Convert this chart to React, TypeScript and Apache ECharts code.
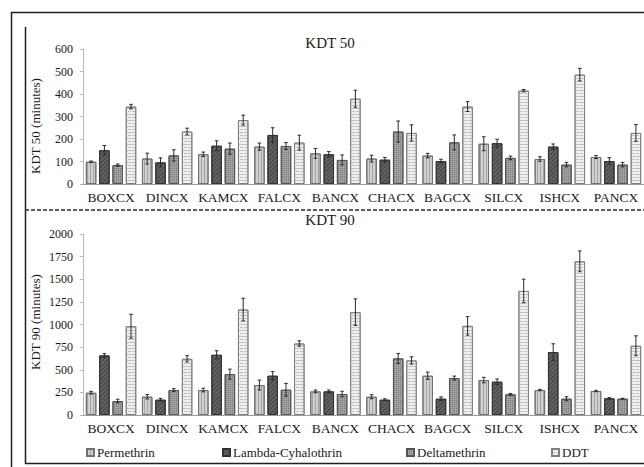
import React, { useEffect, useRef } from "react";
import * as echarts from "echarts";

const categories = ["BOXCX", "DINCX", "KAMCX", "FALCX", "BANCX", "CHACX", "BAGCX", "SILCX", "ISHCX", "PANCX"];
const seriesNames = ["Permethrin", "Lambda-Cyhalothrin", "Deltamethrin", "DDT"];

// KDT 50 (minutes): means and standard errors
const kdt50Permethrin = [99, 113, 132, 166, 136, 113, 126, 179, 111, 120];
const kdt50PermethrinErr = [3, 24, 10, 16, 22, 15, 10, 31, 10, 7];
const kdt50Lambda = [150, 96, 170, 218, 132, 108, 102, 181, 166, 102];
const kdt50LambdaErr = [21, 20, 22, 32, 12, 10, 8, 18, 12, 15];
const kdt50Delta = [84, 127, 157, 169, 107, 233, 185, 116, 86, 86];
const kdt50DeltaErr = [5, 25, 25, 15, 22, 47, 33, 8, 10, 10];
const kdt50DDT = [344, 233, 284, 184, 379, 227, 344, 415, 486, 227];
const kdt50DDTErr = [10, 15, 22, 33, 38, 36, 22, 5, 28, 37];

// KDT 90 (minutes): means and standard errors
const kdt90Permethrin = [246, 202, 276, 331, 261, 202, 434, 386, 276, 265];
const kdt90PermethrinErr = [15, 25, 20, 55, 15, 22, 40, 30, 8, 8];
const kdt90Lambda = [658, 169, 665, 434, 261, 169, 180, 368, 695, 184];
const kdt90LambdaErr = [20, 15, 45, 45, 15, 10, 20, 30, 92, 8];
const kdt90Delta = [154, 276, 452, 279, 232, 625, 408, 228, 180, 180];
const kdt90DeltaErr = [20, 15, 55, 70, 30, 55, 22, 10, 22, 5];
const kdt90DDT = [981, 621, 1165, 790, 1136, 603, 985, 1371, 1698, 765];
const kdt90DDTErr = [132, 35, 125, 30, 147, 40, 103, 130, 115, 110];

const kdt50Ticks = { min: 0, max: 600, interval: 100 };
const kdt90Ticks = { min: 0, max: 2000, interval: 250 };

const FONT = "Liberation Serif";
const TEXT_COLOR = "#1a1a1a";
const BAR_WIDTH = 10.5;
const BAR_GAP_PX = 2.8;

const styles = [
  {
    color: "#d0d0d0",
    borderColor: "#707070",
    decal: { symbol: "rect", symbolSize: 1, dashArrayX: [1, 2], dashArrayY: [1, 0], color: "#a4a4a4" },
  },
  {
    color: "#646464",
    borderColor: "#333333",
    decal: { symbol: "rect", symbolSize: 1, dashArrayX: [1, 2], dashArrayY: [1, 0], rotation: Math.PI / 4, color: "#404040" },
  },
  {
    color: "#a2a2a2",
    borderColor: "#555555",
    decal: { symbol: "rect", symbolSize: 1, dashArrayX: [1, 1], dashArrayY: [1, 1], color: "#767676" },
  },
  {
    color: "#f0f0f0",
    borderColor: "#808080",
    decal: { symbol: "rect", symbolSize: 1, dashArrayX: [[3, 1], [1, 0]], dashArrayY: [1, 2], color: "#c2c2c2" },
  },
];

const panels = [
  {
    values: [kdt50Permethrin, kdt50Lambda, kdt50Delta, kdt50DDT],
    errors: [kdt50PermethrinErr, kdt50LambdaErr, kdt50DeltaErr, kdt50DDTErr],
  },
  {
    values: [kdt90Permethrin, kdt90Lambda, kdt90Delta, kdt90DDT],
    errors: [kdt90PermethrinErr, kdt90LambdaErr, kdt90DeltaErr, kdt90DDTErr],
  },
];

function buildOption() {
  const series: any[] = [];
  panels.forEach((panel, p) => {
    panel.values.forEach((vals, i) => {
      series.push({
        type: "bar",
        name: seriesNames[i],
        xAxisIndex: p,
        yAxisIndex: p,
        data: vals,
        barWidth: BAR_WIDTH,
        barGap: `${(BAR_GAP_PX / BAR_WIDTH) * 100}%`,
        itemStyle: { ...styles[i], borderWidth: 1 },
        emphasis: { disabled: true },
      });
    });
    panel.values.forEach((vals, i) => {
      const offset = (i - 1.5) * (BAR_WIDTH + BAR_GAP_PX);
      series.push({
        type: "custom",
        name: `err-${p}-${i}`,
        xAxisIndex: p,
        yAxisIndex: p,
        z: 10,
        encode: { x: 0, y: [1, 2] },
        data: vals.map((v, k) => [k, v - panel.errors[i][k], v + panel.errors[i][k]]),
        renderItem: (params: any, api: any) => {
          const lo = api.coord([api.value(0), api.value(1)]);
          const hi = api.coord([api.value(0), api.value(2)]);
          const x = lo[0] + offset;
          const cap = 1.8;
          const st = { stroke: "#2a2a2a", lineWidth: 1 };
          return {
            type: "group",
            children: [
              { type: "line", shape: { x1: x, y1: lo[1], x2: x, y2: hi[1] }, style: st },
              { type: "line", shape: { x1: x - cap, y1: lo[1], x2: x + cap, y2: lo[1] }, style: st },
              { type: "line", shape: { x1: x - cap, y1: hi[1], x2: x + cap, y2: hi[1] }, style: st },
            ],
          };
        },
      });
    });
  });

  const xAxis = [0, 1].map((p) => ({
    type: "category",
    gridIndex: p,
    data: categories,
    axisLine: { lineStyle: { color: "#9a9a9a", width: 1 } },
    axisTick: { show: false },
    axisLabel: { interval: 0, color: TEXT_COLOR, fontFamily: FONT, fontSize: 13.5, margin: 6 },
  }));

  const yAxis = [kdt50Ticks, kdt90Ticks].map((t, p) => ({
    type: "value",
    gridIndex: p,
    min: t.min,
    max: t.max,
    interval: t.interval,
    axisLine: { show: true, lineStyle: { color: "#b8b8b8", width: 1 } },
    axisTick: { show: true, length: 3, lineStyle: { color: "#b8b8b8" } },
    splitLine: { show: false },
    axisLabel: {
      color: TEXT_COLOR,
      fontFamily: FONT,
      fontSize: 12,
      margin: 10,
      formatter: (v: number) => String(v),
    },
  }));

  const legendLefts = [86, 222, 406, 551];
  const legend = seriesNames.map((name, i) => ({
    data: [name],
    left: legendLefts[i],
    top: 446,
    itemWidth: 7,
    itemHeight: 7,
    itemGap: 0,
    padding: 0,
    icon: "rect",
    selectedMode: false,
    textStyle: { fontFamily: FONT, fontSize: 13, color: TEXT_COLOR, padding: [0, 0, 0, -2] },
  }));

  const frame = { stroke: "#1f1f1f", lineWidth: 1.5 };
  const textStyle = (text: string, size: number) => ({
    text,
    fontFamily: FONT,
    fontSize: size,
    fill: TEXT_COLOR,
    textAlign: "center",
    textVerticalAlign: "middle",
  });
  const graphic: any[] = [
    { type: "line", shape: { x1: 11.5, y1: 12, x2: 11.5, y2: 467 }, style: frame },
    { type: "line", shape: { x1: 11, y1: 12.5, x2: 644, y2: 12.5 }, style: frame },
    { type: "line", shape: { x1: 25.5, y1: 27, x2: 25.5, y2: 464 }, style: frame },
    { type: "line", shape: { x1: 25, y1: 463.5, x2: 644, y2: 463.5 }, style: frame },
    {
      type: "line",
      shape: { x1: 25, y1: 210, x2: 644, y2: 210 },
      style: { stroke: "#2a2a2a", lineWidth: 1.5, lineDash: [4, 2] },
    },
    { type: "text", x: 330, y: 43, style: textStyle("KDT 50", 15) },
    { type: "text", x: 330, y: 220, style: textStyle("KDT 90", 15) },
    { type: "text", x: 35, y: 126, rotation: Math.PI / 2, style: textStyle("KDT 50 (minutes)", 13) },
    { type: "text", x: 35, y: 322, rotation: Math.PI / 2, style: textStyle("KDT 90 (minutes)", 13) },
  ];

  return {
    animation: false,
    backgroundColor: "#ffffff",
    grid: [
      { left: 83, right: 0, top: 49, height: 135 },
      { left: 83, right: 0, top: 234, height: 181 },
    ],
    xAxis,
    yAxis,
    legend,
    series,
    graphic,
  };
}

export default function App() {
  const ref = useRef<HTMLDivElement>(null);
  useEffect(() => {
    if (!ref.current) return;
    const chart = echarts.init(ref.current, undefined, { renderer: "svg" });
    chart.setOption(buildOption() as any);
    return () => chart.dispose();
  }, []);
  return (
    <div
      ref={ref}
      style={{ position: "absolute", left: 0, top: 0, width: 644, height: 467, background: "#fff" }}
    />
  );
}
